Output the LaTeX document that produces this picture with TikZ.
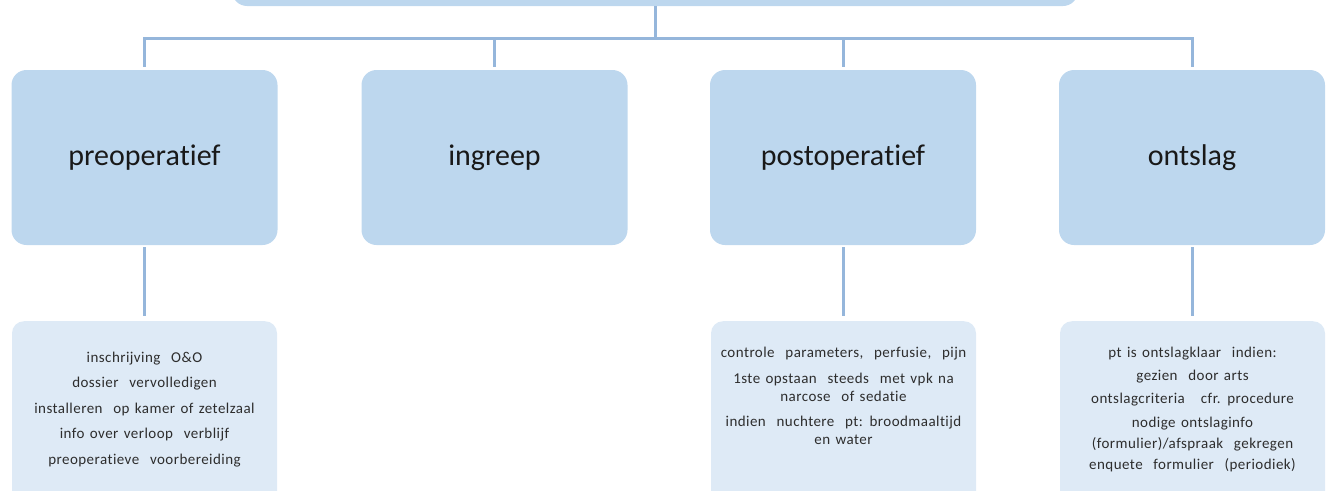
\documentclass[tikz,border=0pt]{standalone}
\usepackage{fontspec}
\setmainfont{Carlito}[Ligatures={NoCommon,NoRare},Contextuals=NoAlternate]
\newfontfamily\subfont[LetterSpace=3,WordSpace=1.4,Ligatures={NoCommon,NoRare},Contextuals=NoAlternate]{Carlito}
\definecolor{boxfill}{RGB}{189,215,238}
\definecolor{subfill}{RGB}{222,234,246}
\definecolor{linecol}{RGB}{149,182,219}
\definecolor{txt}{RGB}{25,25,25}
\definecolor{subtxt}{RGB}{45,45,45}
\tikzset{
  mainbox/.style={fill=boxfill, rounded corners=15pt, minimum width=266pt, minimum height=175pt, inner sep=0pt, text=txt, font=\fontsize{30}{36}\selectfont},
  subbox/.style={fill=subfill, rounded corners=12pt, minimum width=265pt, minimum height=190pt, inner sep=0pt, anchor=north},
  subtext/.style={anchor=north, align=center, inner sep=0pt, text=subtxt, font=\subfont\fontsize{15}{18}\selectfont},
  conn/.style={draw=linecol, line width=3pt}
}
\begin{document}
\begin{tikzpicture}[x=1pt,y=-1pt]
\useasboundingbox (0,0) rectangle (1332,490);
\clip (0,0) rectangle (1332,490);
% top box (cut off)
\node[fill=boxfill, rounded corners=15pt, minimum width=846pt, minimum height=80pt, inner sep=0pt] (top) at (655,-34) {};
% main boxes
\node[mainbox] (pre)  at (144.5,157.5) {preopera\kern0pt tief};
\node[mainbox] (ing)  at (494.5,157.5) {ingreep};
\node[mainbox] (post) at (843,157.5) {postopera\kern0pt tief};
\node[mainbox] (ont)  at (1192,157.5) {ontslag};
% sub boxes
\node[subbox] (preS)  at (144.5,321) {};
\node[subbox] (postS) at (843.5,321) {};
\node[subbox] (ontS)  at (1192.5,321) {};
% sub texts
\node[subtext] (preT) at (144.5,351.5) {inschrijving\ \ O\&O\\[7.5pt]dossier\ \ vervolledigen\\[7.5pt]installeren\ \ op kamer of zetelzaal\\[7.5pt]info\ over verloop\ \ verblijf\\[7.5pt]preoperatieve\ \ voorbereiding};
\node[subtext] (postT) at (843.5,346.5) {controle\ \ parameters,\ \ perfusie,\ \ pijn\\[8pt]1ste opstaan\ \ steeds\ \ met vpk na\\narcose\ \ of sedatie\\[7pt]indien\ \ nuchtere\ \ pt: broodmaaltijd\\en water};
\node[subtext] (ontT) at (1192.5,347) {pt is ontslagklaar\ \ indien:\\[5pt]gezien\ \ door\ arts\\[5pt]ontslagcriteria\ \ \ cfr. procedure\\[6pt]nodige\ ontslaginfo\\[3pt](formulier)/afspraak\ \ gekregen\\[3pt]enquete\ \ formulier\ \ (periodiek)};
% connectors
\coordinate (bus) at (655,38);
\draw[conn] (top.south) -- (bus);
\draw[conn, shorten >=3pt] (bus) -| (pre.north);
\draw[conn, shorten >=3pt] (bus) -| (ing.north);
\draw[conn, shorten >=3pt] (bus) -| (post.north);
\draw[conn, shorten >=3pt] (bus) -| (ont.north);
\draw[conn, shorten <=2pt, shorten >=5pt] (pre.south) -- (preS.north);
\draw[conn, shorten <=2pt, shorten >=5pt] (post.south) -- (post.south |- postS.north);
\draw[conn, shorten <=2pt, shorten >=5pt] (ont.south) -- (ont.south |- ontS.north);
\end{tikzpicture}
\end{document}
